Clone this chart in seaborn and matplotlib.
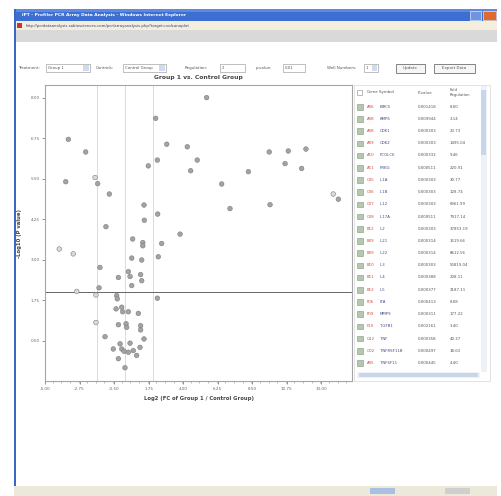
import matplotlib
matplotlib.use("Agg")
import matplotlib.pyplot as plt
import seaborn as sns
import pandas as pd
from matplotlib.patches import Rectangle
from matplotlib.ticker import MultipleLocator

sns.set_theme(style="white")
plt.rcParams['font.family'] = ['DejaVu Sans']

# ---------------- data ----------------
log2_fc = [5.53, 2.21, -3.48, 2.93, 4.27, -2.35, 9.61, 10.85, 12.00, 2.32,
           4.92, 1.73, 10.64, 4.49, 8.25, 11.72, -1.74, -3.65, -1.57, 6.51,
           -0.81, 13.78, 14.11, 1.45, 7.05, 9.66, 2.34, 1.47, -1.03, 3.80,
           0.71, 1.37, 1.37, 2.60, -4.07, -3.16, 0.65, 1.30, 2.38, -1.42,
           0.43, 0.54, -0.22, 1.23, 1.30, 0.65, -1.48, -2.93, -1.68, -0.33,
           -0.29, 2.32, -0.37, 0.00, 0.06, 0.43, 1.08, -1.68, -0.22, 0.28,
           0.32, 1.23, 1.23, -1.09, 1.45, -0.11, 0.54, -0.55, 0.00, 1.19,
           0.15, 0.75, 0.43, 0.97, -0.22, 0.21]
neg_log10_p = [8.01, 7.37, 6.72, 6.57, 6.49, 6.33, 6.33, 6.36, 6.42, 6.08,
               6.08, 5.90, 5.97, 5.75, 5.72, 5.82, 5.54, 5.41, 5.35, 5.34,
               5.03, 5.03, 4.87, 4.69, 4.58, 4.70, 4.41, 4.22, 4.02, 3.79,
               3.64, 3.53, 3.43, 3.50, 3.33, 3.18, 3.05, 2.99, 3.09, 2.76,
               2.63, 2.48, 2.45, 2.54, 2.35, 2.20, 2.13, 2.02, 1.91, 1.89,
               1.79, 1.81, 1.48, 1.53, 1.39, 1.39, 1.34, 1.06, 0.99, 1.02,
               0.91, 0.96, 0.83, 0.62, 0.55, 0.40, 0.42, 0.24, 0.24, 0.29,
               0.17, 0.19, 0.14, 0.04, -0.06, -0.34]
light_idx = [16, 21, 34, 35, 47, 48, 57]
status = ["faded" if i in light_idx else "normal" for i in range(len(log2_fc))]

fc_lines = [-1.6, 0.2, 2.05]
p_line = 2.0
x_ticks = [-5.00, -2.75, -0.50, 1.75, 4.00, 6.25, 8.50, 10.75, 13.00]
y_ticks = [0.50, 1.75, 3.00, 4.25, 5.50, 6.75, 8.00]

wells = ["A06", "A08", "A08", "A09", "A10", "A11", "C05", "C06", "C07", "C08", "B12",
         "B09", "B09", "B10", "B11", "B12", "F06", "F09", "F10", "G12", "G02", "A05"]
genes = ["BIRC5", "BMP6", "CDK1", "CDK2", "PCOLCE", "PRKG", "IL1A", "IL1B", "IL12",
         "IL17A", "IL2", "IL21", "IL22", "IL3", "IL4", "IL5", "LTA", "MMP9", "TGFB1",
         "TNF", "TNFRSF11B", "TNFSF11"]
pvals = ["0.001418", "0.009944", "0.000303", "0.000303", "0.000332", "0.000511",
         "0.000303", "0.000303", "0.000303", "0.000511", "0.000303", "0.000314",
         "0.000314", "0.000303", "0.000388", "0.000377", "0.000413", "0.000311",
         "0.002161", "0.000358", "0.000497", "0.000445"]
fold_reg = ["8.00", "3.14", "23.73", "1495.04", "9.46", "220.91", "30.77", "128.74",
            "6961.99", "7917.14", "37853.19", "1519.66", "8612.56", "56819.04", "208.11",
            "3187.11", "8.08", "177.22", "3.40", "40.37", "18.63", "4.40"]

df = pd.DataFrame({"log2fc": log2_fc, "nlp": neg_log10_p, "status": status})

W, H = 502, 496
fig = plt.figure(figsize=(W / 100, H / 100), dpi=100)
fig.patch.set_facecolor("white")

def fx(px):
    return px / W

def fy(py):
    return 1 - py / H

def rect(x0, y0, x1, y1, fc, ec="none", lw=0.5, z=0):
    fig.patches.append(Rectangle((fx(x0), fy(y1)), fx(x1) - fx(x0), fy(y0) - fy(y1),
                                 transform=fig.transFigure, facecolor=fc,
                                 edgecolor=ec, linewidth=lw, zorder=z))

def txt(px, py, s, size=3.0, color="#555555", **kw):
    fig.text(fx(px), fy(py), s, fontsize=size, color=color, va="center", **kw)

# ---------------- browser chrome ----------------
rect(14, 9, 497, 21, "#3c6fd1")
rect(14, 9, 497, 12, "#5d8ae0")
txt(22, 15, "IPT - Profiler PCR Array Data Analysis - Windows Internet Explorer",
    size=3.2, color="white", weight="bold")
rect(470, 11, 481, 20, "#6f95e0", ec="white", lw=0.4)
rect(483, 11, 496, 20, "#e06a2c", ec="white", lw=0.4)
rect(14, 21, 497, 30, "#f3efdc")
rect(17, 23, 22, 28, "#c8352a")
txt(26, 25.5, "http://pcrdataanalysis.sabiosciences.com/pcr/arrayanalysis.php?target=volcanoplot",
    size=2.8, color="#2c3f87")
rect(14, 30, 497, 42, "#d9d9d9")
rect(14, 9, 16.5, 492, "#3b66c4")
rect(14, 486, 497, 496, "#ece9da")
rect(370, 488, 395, 494, "#a9c0e0")
rect(445, 488, 470, 494, "#cfcfcf")

# controls row
yc = 68
txt(18, yc, "Treatment:", size=2.9)
rect(46, yc - 3.5, 90, yc + 3.5, "white", ec="#a5a5a5")
txt(48, yc, "Group 1", size=2.8)
rect(83, yc - 3, 89, yc + 3, "#d0dbef")
txt(96, yc, "Controls:", size=2.9)
rect(123, yc - 3.5, 166, yc + 3.5, "white", ec="#a5a5a5")
txt(125, yc, "Control Group", size=2.8)
rect(159, yc - 3, 165, yc + 3, "#d0dbef")
txt(185, yc, "Regulation:", size=2.9)
rect(220, yc - 3.5, 245, yc + 3.5, "white", ec="#a5a5a5")
txt(222, yc, "2", size=2.8)
txt(256, yc, "p-value:", size=2.9)
rect(283, yc - 3.5, 305, yc + 3.5, "white", ec="#a5a5a5")
txt(285, yc, "0.01", size=2.8)
txt(327, yc, "Well Numbers:", size=2.9)
rect(364, yc - 3.5, 378, yc + 3.5, "white", ec="#a5a5a5")
txt(366, yc, "1", size=2.8)
rect(372, yc - 3, 377, yc + 3, "#d0dbef")
rect(396, yc - 4.5, 425, yc + 4.5, "#f6f6f6", ec="#707070", lw=0.6)
txt(410.5, yc, "Update", size=2.9, ha="center")
rect(434, yc - 4.5, 475, yc + 4.5, "#f6f6f6", ec="#707070", lw=0.6)
txt(454.5, yc, "Export Data", size=2.9, ha="center")

# ---------------- volcano plot ----------------
ax = fig.add_axes([fx(45), fy(381), fx(352) - fx(45), fy(85) - fy(381)])
ax.set_xlim(-5.0, 15.0)
ax.set_ylim(-0.75, 8.4)
for xv in fc_lines:
    ax.axvline(xv, color="#d6d6d6", lw=0.6, zorder=1)
ax.axhline(p_line, color="#666666", lw=0.7, zorder=1)

sns.scatterplot(data=df, x="log2fc", y="nlp", hue="status", ax=ax,
                palette={"normal": "#a3a3a3", "faded": "#dadada"},
                hue_order=["normal", "faded"], s=11, linewidth=0.4,
                edgecolor="#7d7d7d", legend=False, zorder=3)

ax.set_xticks(x_ticks)
ax.set_xticklabels([f"{v:.2f}" for v in x_ticks])
ax.set_yticks(y_ticks)
ax.set_yticklabels([f"{v:.2f}" for v in y_ticks])
ax.xaxis.set_minor_locator(MultipleLocator(0.5625))
ax.tick_params(axis="both", which="major", labelsize=3.0, colors="#666666",
               length=2, width=0.5, pad=2, bottom=True, left=True)
ax.tick_params(axis="x", which="minor", length=1.2, width=0.4, color="#888888", bottom=True)
for s in ax.spines.values():
    s.set_color("#a5a5a5")
    s.set_linewidth(0.8)
ax.set_xlabel("Log2 (FC of Group 1 / Control Group)", fontsize=3.8, weight="bold",
              color="#444444", labelpad=4)
ax.set_ylabel("-Log10 (P value)", fontsize=3.8, weight="bold", color="#444444", labelpad=6)
ax.set_title("Group 1 vs. Control Group", fontsize=4.3, weight="bold",
             color="#444444", pad=4)

# ---------------- gene table ----------------
rect(354, 85, 490, 381, "white", ec="#d8d8d8", lw=0.5)
rect(357, 90, 362, 95, "white", ec="#8a8a8a", lw=0.4)
txt(367, 92.5, "Gene Symbol", size=2.9)
txt(418, 92.5, "P-value", size=2.9)
txt(450, 90, "Fold", size=2.7)
txt(450, 95, "Regulation", size=2.7)
for i in range(len(genes)):
    yr = 106.7 + i * 12.2
    rect(357, yr - 2.8, 363, yr + 2.8, "#b3c8ad", ec="#85977f", lw=0.4)
    txt(367, yr, wells[i], size=2.8, color="#cc4a3c")
    txt(380, yr, genes[i], size=2.8, color="#4a4a8a")
    txt(418, yr, pvals[i], size=2.8)
    txt(450, yr, fold_reg[i], size=2.8)
rect(481, 86, 487, 372, "#eef2f8")
rect(481.5, 90, 486.5, 155, "#c8d6ec")
rect(357, 372, 480, 378, "#eef2f8")
rect(359, 373, 478, 377, "#c8d6ec")

fig.savefig("out.png", dpi=100, facecolor="white")
